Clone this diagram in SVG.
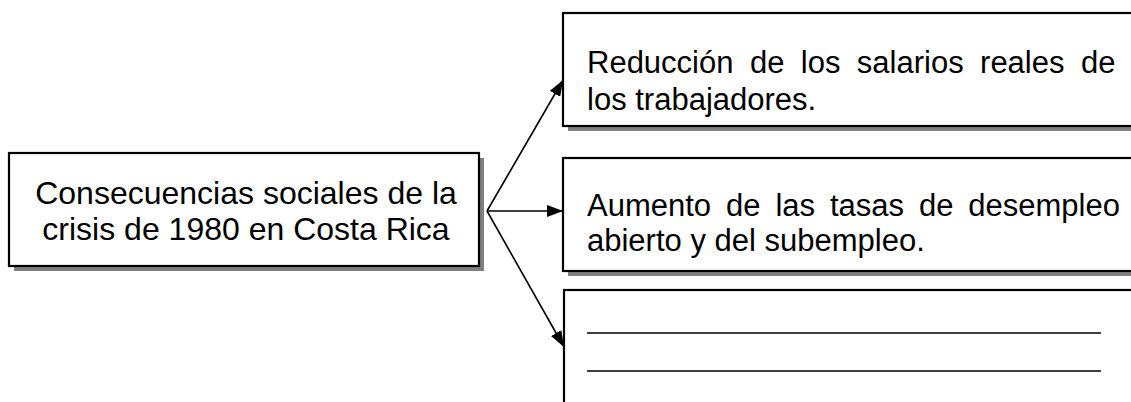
<svg xmlns="http://www.w3.org/2000/svg" width="1131" height="402" viewBox="0 0 1131 402">
<style>
.box{fill:#fff;stroke:#000;stroke-width:2.2}
.sh{fill:#808080}
.t{font-family:"Liberation Sans",Arial,sans-serif;fill:#000}
.c{stroke:#000;stroke-width:1.6;fill:none}
</style>
<defs>
<marker id="ah" viewBox="0 0 16 12" refX="16" refY="6" markerWidth="16" markerHeight="12" markerUnits="userSpaceOnUse" orient="auto">
<path d="M0,0 L16,6 L0,12 Z" fill="#000"/>
</marker>
</defs>
<rect width="1131" height="402" fill="#fff"/>
<g id="main">
<rect class="sh" x="14" y="158" width="470" height="113"/>
<rect class="box" x="9" y="153" width="470" height="113"/>
<text class="t" font-size="32" text-anchor="middle" x="246" y="204">Consecuencias sociales de la</text>
<text class="t" font-size="32" text-anchor="middle" x="246" y="240">crisis de 1980 en Costa Rica</text>
</g>
<g id="c1">
<rect class="sh" x="568" y="18" width="600" height="113"/>
<rect class="box" x="563" y="13" width="600" height="113"/>
<text class="t" font-size="31" x="587" y="73" word-spacing="7.8">Reducción de los salarios reales de</text>
<text class="t" font-size="31" x="587" y="110">los trabajadores.</text>
</g>
<g id="c2">
<rect class="sh" x="568" y="163" width="600" height="113"/>
<rect class="box" x="563" y="158" width="600" height="113"/>
<text class="t" font-size="31" x="587" y="216" word-spacing="6.3">Aumento de las tasas de desempleo</text>
<text class="t" font-size="31" x="587" y="251">abierto y del subempleo.</text>
</g>
<g id="c3">
<rect class="box" x="564" y="290" width="600" height="130"/>
<line x1="587" y1="333" x2="1101" y2="333" stroke="#000" stroke-width="1.6"/>
<line x1="587" y1="371" x2="1101" y2="371" stroke="#000" stroke-width="1.6"/>
</g>
<g id="connectors">
<line class="c" x1="487" y1="211" x2="563" y2="80" marker-end="url(#ah)"/>
<line class="c" x1="487" y1="211" x2="563" y2="211" marker-end="url(#ah)"/>
<line class="c" x1="487" y1="211" x2="564" y2="347" marker-end="url(#ah)"/>
</g>
</svg>
